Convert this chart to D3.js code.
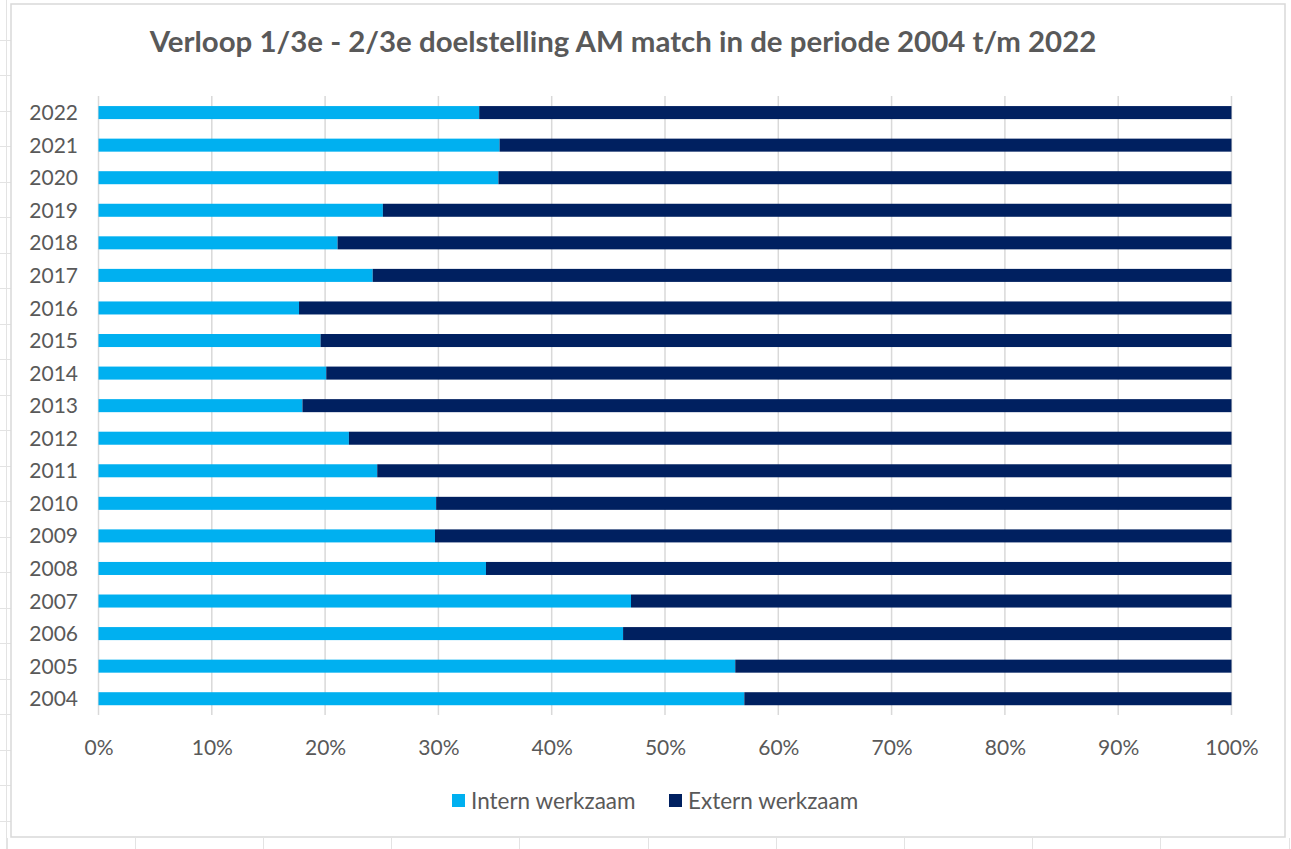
<!DOCTYPE html>
<html>
<head>
<meta charset="utf-8">
<script src="https://cdn.jsdelivr.net/npm/d3@7"></script>
<style>
  html, body { margin: 0; padding: 0; background: #fff; }
  svg { display: block; font-family: Lato, "Open Sans", sans-serif; }
</style>
</head>
<body>
<div id="chart"></div>
<script>
// Values (share of each year, in %)
const years = ['2022', '2021', '2020', '2019', '2018', '2017', '2016', '2015', '2014', '2013',
               '2012', '2011', '2010', '2009', '2008', '2007', '2006', '2005', '2004'];
const intern = [33.6, 35.4, 35.3, 25.1, 21.1, 24.2, 17.7, 19.6, 20.1, 18.0,
                22.1, 24.6, 29.8, 29.7, 34.2, 47.0, 46.3, 56.2, 57.0];
const extern = [66.4, 64.6, 64.7, 74.9, 78.9, 75.8, 82.3, 80.4, 79.9, 82.0,
                77.9, 75.4, 70.2, 70.3, 65.8, 53.0, 53.7, 43.8, 43.0];
const seriesNames = ['Intern werkzaam', 'Extern werkzaam'];
const seriesColors = ['#00B0F0', '#002060'];
const xTicks = [0, 10, 20, 30, 40, 50, 60, 70, 80, 90, 100];
const title = 'Verloop 1/3e - 2/3e doelstelling AM match in de periode 2004 t/m 2022';

const W = 1291, H = 849;
const textColor = '#595959';
const lineColor = '#D9D9D9';
const font = 'Lato, "Open Sans", sans-serif';

const svg = d3.select('#chart').append('svg')
    .attr('width', W)
    .attr('height', H);

// Spreadsheet cell lines around the chart object
const sheet = svg.append('g').attr('stroke', '#E3E3E3').attr('stroke-width', 1);
sheet.append('line').attr('x1', 6.5).attr('x2', 6.5).attr('y1', 0).attr('y2', H);
d3.range(39.5, 838, 35.5).forEach(y => {
    sheet.append('line').attr('x1', 0).attr('x2', 11).attr('y1', Math.round(y) + 0.5).attr('y2', Math.round(y) + 0.5);
});
d3.range(6.5, W, 128.2).forEach(x => {
    sheet.append('line').attr('x1', Math.round(x) + 0.5).attr('x2', Math.round(x) + 0.5).attr('y1', 838).attr('y2', H);
});

// Chart frame
svg.append('rect')
    .attr('x', 11).attr('y', 4)
    .attr('width', 1274).attr('height', 833)
    .attr('fill', '#fff')
    .attr('stroke', lineColor)
    .attr('stroke-width', 1.5);

// Scales
const x = d3.scaleLinear().domain([0, 100]).range([98.5, 1231.5]);
const y = d3.scaleBand().domain(years).range([96.3, 715]).paddingInner(0.6).paddingOuter(0.3);

// Gridlines
svg.append('g')
    .selectAll('line')
    .data(xTicks)
    .join('line')
    .attr('x1', d => x(d)).attr('x2', d => x(d))
    .attr('y1', 96).attr('y2', 715)
    .attr('stroke', lineColor)
    .attr('stroke-width', 1.5);

// Stacked bars
const rows = years.map((yr, i) => ({ year: yr, intern: intern[i], extern: extern[i] }));
const stacked = d3.stack().keys(['intern', 'extern']).offset(d3.stackOffsetExpand)(rows);

svg.append('g')
    .selectAll('g')
    .data(stacked)
    .join('g')
    .attr('fill', (d, i) => seriesColors[i])
    .selectAll('rect')
    .data(d => d)
    .join('rect')
    .attr('x', d => x(d[0] * 100))
    .attr('width', d => x(d[1] * 100) - x(d[0] * 100))
    .attr('y', d => y(d.data.year))
    .attr('height', y.bandwidth());

// Y axis labels
svg.append('g')
    .attr('transform', 'translate(78,0)')
    .call(d3.axisLeft(y).tickSize(0).tickPadding(0))
    .call(g => g.select('.domain').remove())
    .call(g => g.attr('font-family', font).attr('font-size', 21))
    .selectAll('text')
    .attr('fill', textColor)
    .attr('dy', '0.36em');

// X axis labels
svg.append('g')
    .attr('transform', 'translate(0,715)')
    .call(d3.axisBottom(x).tickValues(xTicks).tickSize(0).tickPadding(0).tickFormat(d => d + '%'))
    .call(g => g.select('.domain').remove())
    .call(g => g.attr('font-family', font).attr('font-size', 21))
    .selectAll('text')
    .attr('fill', textColor)
    .attr('y', 32)
    .attr('dy', '0.36em');

// Title
const titleText = svg.append('text')
    .attr('x', 623)
    .attr('y', 52)
    .attr('text-anchor', 'middle')
    .attr('fill', textColor)
    .style('font-weight', 'bold')
    .style('font-size', '26px')
    .text(title);
const tw = titleText.node().getComputedTextLength();
titleText.style('font-size', (26 * 947 / tw).toFixed(2) + 'px');

// Legend
const legendX = [452, 669];
const legend = svg.append('g')
    .selectAll('g')
    .data(seriesNames)
    .join('g')
    .attr('transform', (d, i) => `translate(${legendX[i]},794)`);
legend.append('rect')
    .attr('width', 13).attr('height', 13)
    .attr('fill', (d, i) => seriesColors[i]);
legend.append('text')
    .attr('x', 19)
    .attr('y', 6.5)
    .attr('dy', '0.36em')
    .attr('fill', textColor)
    .style('font-size', '22.5px')
    .text(d => d);
</script>
</body>
</html>
